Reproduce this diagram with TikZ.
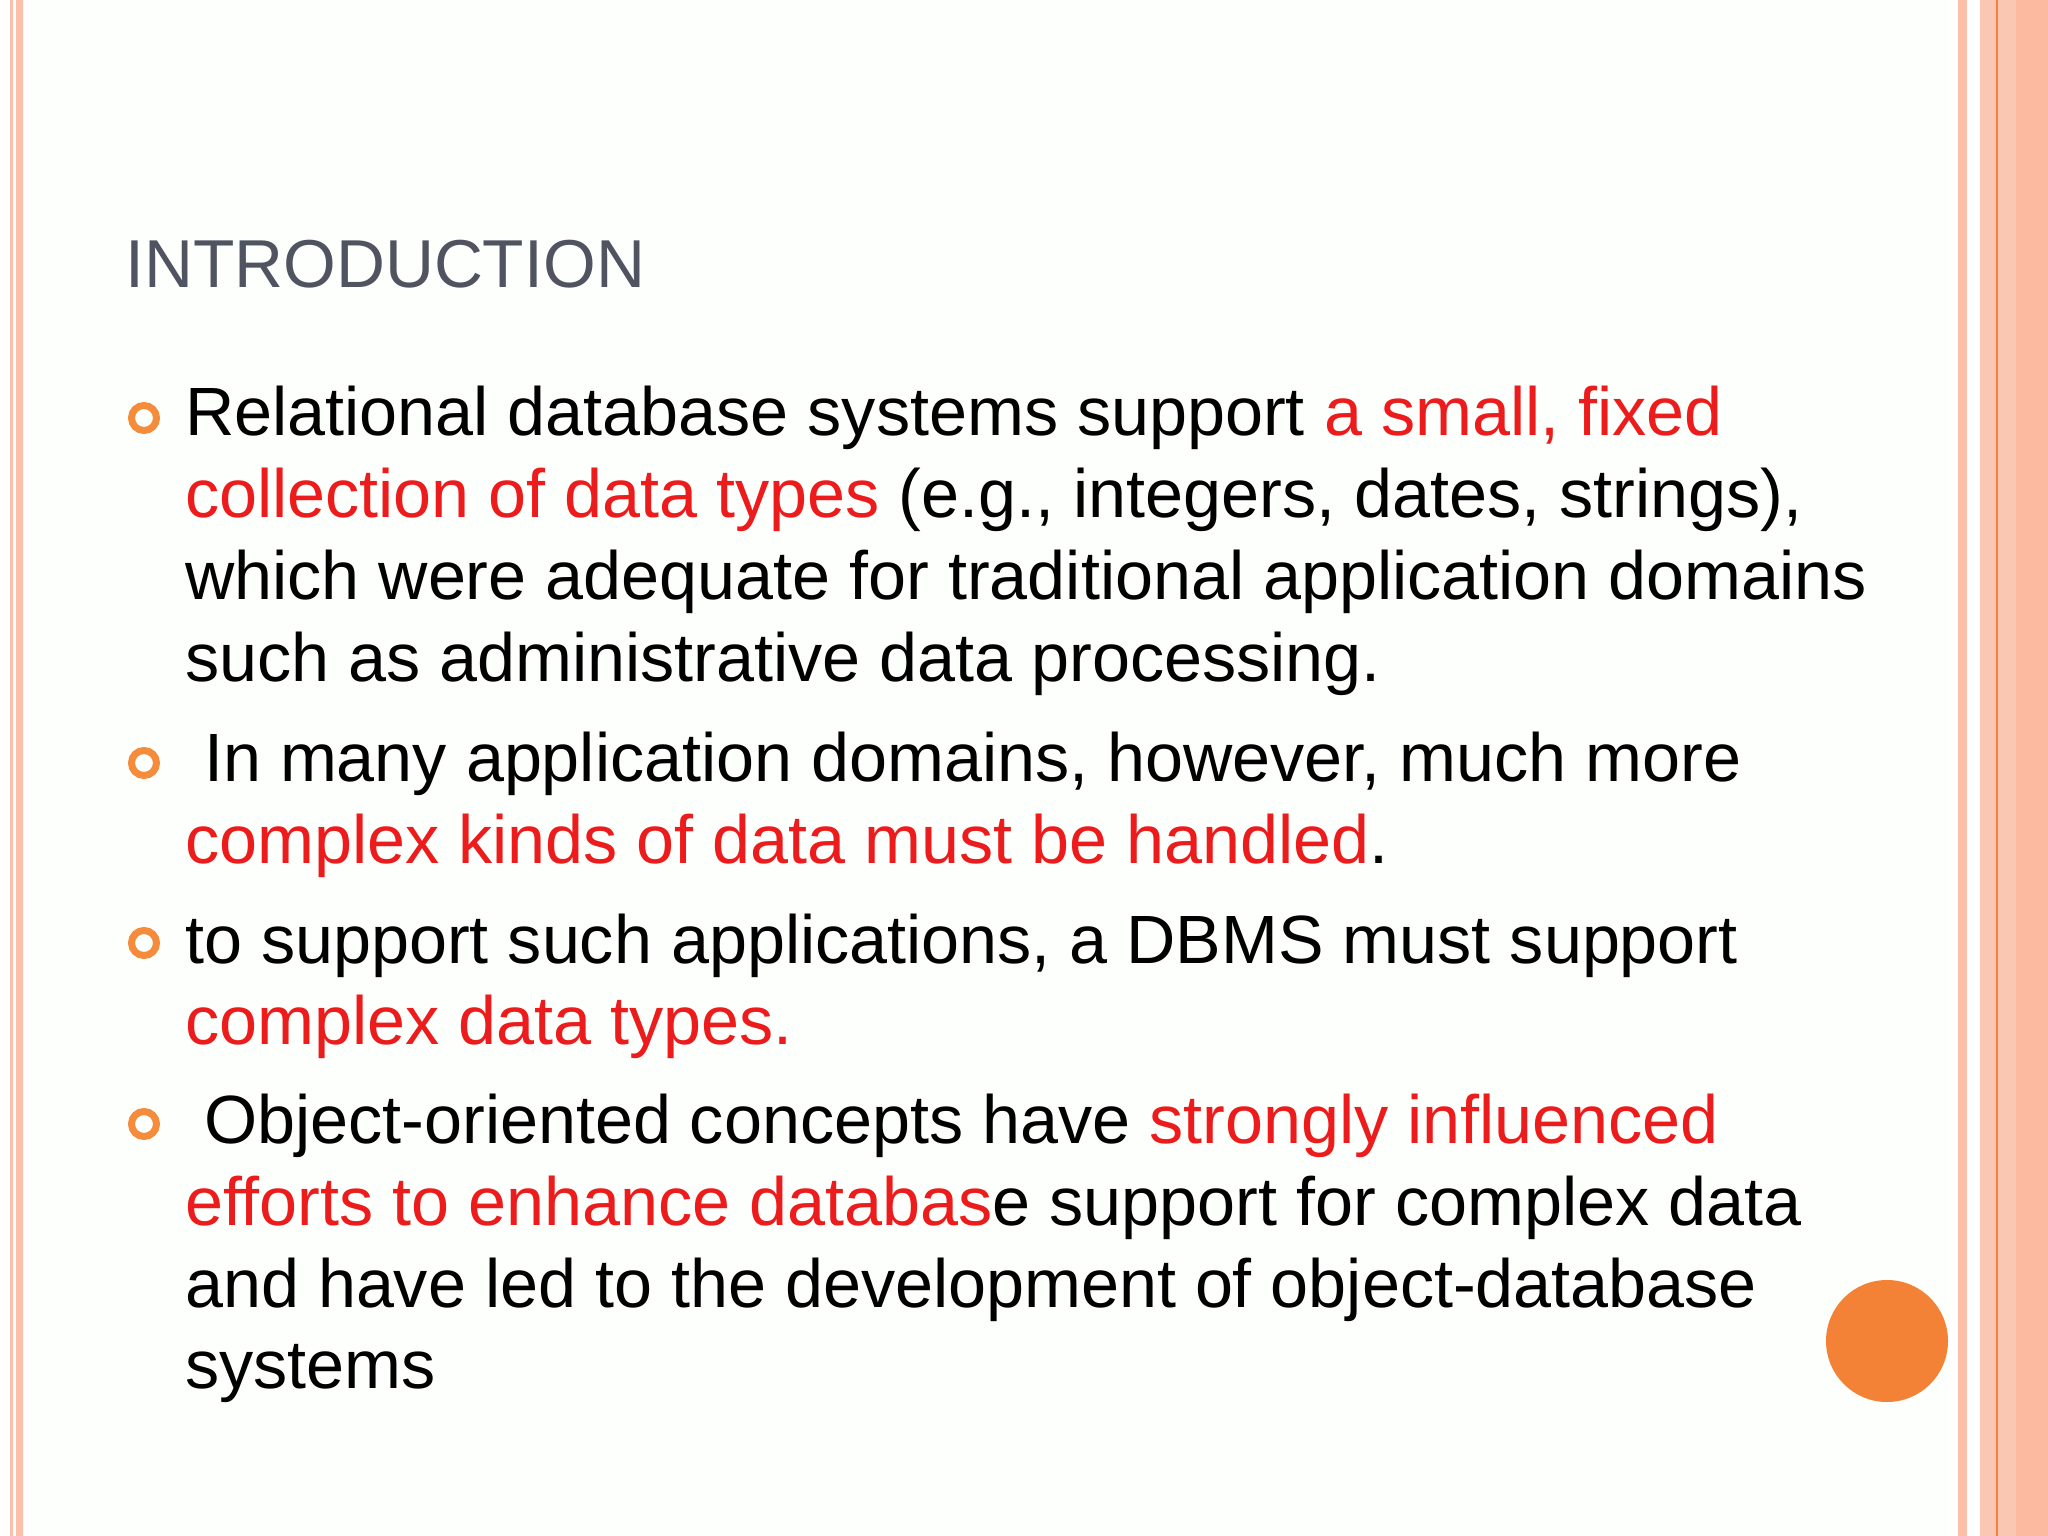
\documentclass[tikz,border=0pt]{standalone}
\usepackage{fontspec}
\setmainfont{Liberation Sans}
\definecolor{stripe}{RGB}{252,192,170}
\definecolor{stripeb}{RGB}{250,200,178}
\definecolor{dorange}{RGB}{242,130,60}
\definecolor{ttl}{RGB}{80,84,96}
\definecolor{hl}{RGB}{236,28,28}
\definecolor{bul}{RGB}{245,140,60}
\begin{document}
\begin{tikzpicture}[x=1pt,y=-1pt,
  ln/.style={anchor=base west,inner sep=0pt,font=\fontsize{68.3}{80}\selectfont},
  bl/.style={circle,draw=bul,line width=7pt,minimum size=25pt,inner sep=0pt}]
\useasboundingbox (0,0) rectangle (2048,1536);
\fill[white!98!green!40!white] (0,0) rectangle (2048,1536);
\fill[white] (0,0) rectangle (10,1536);
\fill[stripe] (10,0) rectangle (13,1536);
\fill[stripe] (16,0) rectangle (23,1536);
\fill[white] (1950,0) rectangle (2048,1536);
\fill[stripe] (1958,0) rectangle (1967,1536);
\fill[stripeb] (1980,0) rectangle (2048,1536);
\fill[stripe!110] (2016,0) rectangle (2048,1536);
\fill[dorange] (1995.5,0) rectangle (1998,1536);
\node[anchor=base west,inner sep=0pt,text=ttl,font=\fontsize{67.8}{80}\selectfont] (title) at (125,287) {INTRODUCTION};
\node[bl] (b1) at (144,418) {};
\node[bl] (b2) at (144,763) {};
\node[bl] (b3) at (144,943) {};
\node[bl] (b4) at (144,1124) {};
\node[ln] (l1) at (185,435) {Relational database systems support \textcolor{hl}{a small, fixed}};
\node[ln] (l2) at (185,517) {\textcolor{hl}{collection of data types} (e.g., integers, dates, strings),};
\node[ln] (l3) at (185,599) {which were adequate for traditional application domains};
\node[ln] (l4) at (185,681) {such as administrative data processing.};
\node[ln] (l5) at (185,781) {\ In many application domains, however, much more};
\node[ln] (l6) at (185,863) {\textcolor{hl}{complex kinds of data must be handled}.};
\node[ln] (l7) at (185,963) {to support such applications, a DBMS must support};
\node[ln] (l8) at (185,1044) {\textcolor{hl}{complex data types.}};
\node[ln] (l9) at (185,1143) {\ Object-oriented concepts have \textcolor{hl}{strongly influenced}};
\node[ln] (l10) at (185,1225) {\textcolor{hl}{efforts to enhance databas}e support for complex data};
\node[ln] (l11) at (185,1307) {and have led to the development of object-database};
\node[ln] (l12) at (185,1388) {systems};
\fill[dorange!90!orange] (1887,1341) circle (61);
\end{tikzpicture}
\end{document}
